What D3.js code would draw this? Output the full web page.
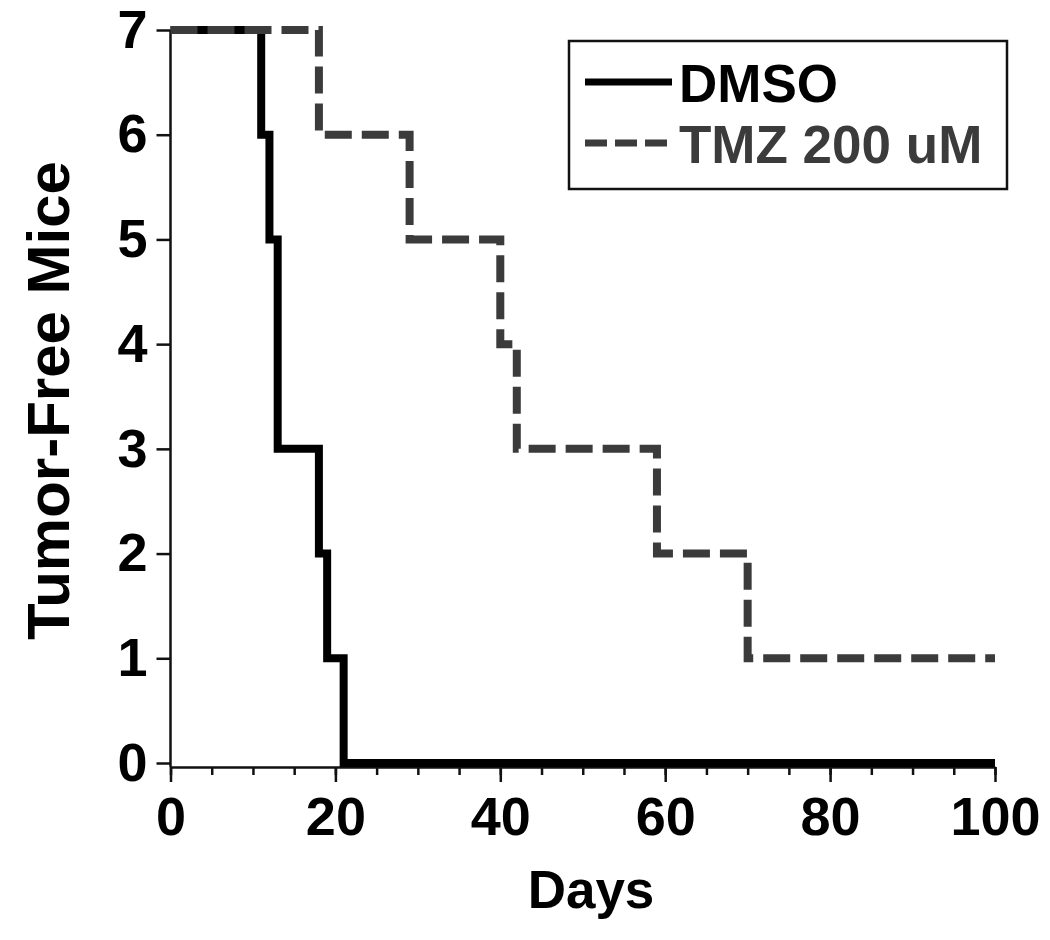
<!DOCTYPE html>
<html>
<head>
<meta charset="utf-8">
<script src="https://cdn.jsdelivr.net/npm/d3@7"></script>
<style>
  body { margin: 0; background: #fff; }
  text { font-family: "Liberation Sans", Arial, sans-serif; font-weight: bold; }
</style>
</head>
<body>
<div id="chart"></div>
<script>
/* DATA */
const dmsoDays = [0, 11, 12, 13, 18, 19, 21, 100];
const dmsoMice = [7, 6, 5, 3, 2, 1, 0, 0];
const tmzDays = [0, 18, 29, 40, 42, 59, 70, 100];
const tmzMice = [7, 6, 5, 4, 3, 2, 1, 1];
const xTicks = [0, 20, 40, 60, 80, 100];
const xMinorTicks = d3.range(0, 101, 5);
const yTicks = [0, 1, 2, 3, 4, 5, 6, 7];
const seriesNames = ["DMSO", "TMZ 200 uM"];

/* LAYOUT */
const width = 1050, height = 940;
const margin = { top: 30, left: 170.5, right: 55, bottom: 177 };

const svg = d3.select("#chart").append("svg")
  .attr("width", width)
  .attr("height", height);

const xScale = d3.scaleLinear()
  .domain([0, 100])
  .range([margin.left, width - margin.right]);

const yScale = d3.scaleLinear()
  .domain([0, 7])
  .range([height - margin.bottom, margin.top]);

const axisY = yScale(0) + 4; // x axis sits a few px under the zero line

// minor x ticks
svg.append("g")
  .attr("transform", `translate(0, ${axisY})`)
  .call(d3.axisBottom(xScale).tickValues(xMinorTicks).tickSize(8).tickFormat(""))
  .call(g => g.select(".domain").remove())
  .call(g => g.selectAll("line").attr("stroke", "#111").attr("stroke-width", 2.5));

// major x ticks + axis line
const xAxisGroup = svg.append("g")
  .attr("transform", `translate(0, ${axisY})`)
  .call(d3.axisBottom(xScale).tickValues(xTicks).tickSize(15).tickSizeOuter(0).tickPadding(15).tickFormat(d3.format("d")));

xAxisGroup.select(".domain").attr("stroke", "#111").attr("stroke-width", 2.5);
xAxisGroup.selectAll(".tick line").attr("stroke", "#111").attr("stroke-width", 2.5);
xAxisGroup.selectAll(".tick text")
  .attr("font-size", 54)
  .attr("fill", "#000")
  .attr("dy", "0.71em");

// y axis
const yAxisGroup = svg.append("g")
  .attr("transform", `translate(${margin.left}, 0)`)
  .call(d3.axisLeft(yScale).tickValues(yTicks).tickSize(14).tickSizeOuter(0).tickPadding(9).tickFormat(d3.format("d")));

yAxisGroup.select(".domain")
  .attr("d", `M0,${yScale(7)}V${axisY}`)
  .attr("stroke", "#111").attr("stroke-width", 2.5);
yAxisGroup.selectAll(".tick line").attr("stroke", "#111").attr("stroke-width", 2.5);
yAxisGroup.selectAll(".tick text")
  .attr("font-size", 54)
  .attr("fill", "#000");

// axis titles
svg.append("text")
  .attr("x", 591)
  .attr("y", 908)
  .attr("text-anchor", "middle")
  .attr("font-size", 53)
  .attr("fill", "#000")
  .text("Days");

svg.append("text")
  .attr("transform", `translate(69, ${(yScale(0) + yScale(7)) / 2 + 4}) rotate(-90)`)
  .attr("text-anchor", "middle")
  .attr("font-size", 60)
  .attr("fill", "#000")
  .text("Tumor-Free Mice");

/* LINES */
const stepLine = d3.line()
  .x(d => xScale(d[0]))
  .y(d => yScale(d[1]))
  .curve(d3.curveStepAfter);

const dmsoData = d3.zip(dmsoDays, dmsoMice);
const tmzData = d3.zip(tmzDays, tmzMice);

svg.append("path")
  .datum(dmsoData)
  .attr("d", stepLine)
  .attr("fill", "none")
  .attr("stroke", "#000")
  .attr("stroke-width", 8)
  .attr("stroke-linejoin", "miter");

svg.append("path")
  .datum(tmzData)
  .attr("d", stepLine)
  .attr("fill", "none")
  .attr("stroke", "#3b3b3b")
  .attr("stroke-width", 8)
  .attr("stroke-dasharray", "27,10");

/* LEGEND */
const legend = svg.append("g");

legend.append("rect")
  .attr("x", 569)
  .attr("y", 41)
  .attr("width", 438)
  .attr("height", 148)
  .attr("fill", "none")
  .attr("stroke", "#111")
  .attr("stroke-width", 2.5);

const legendRows = [
  { name: seriesNames[0], y: 82, color: "#000", dash: null },
  { name: seriesNames[1], y: 143, color: "#3b3b3b", dash: "22,8" }
];

legendRows.forEach(r => {
  legend.append("line")
    .attr("x1", 585).attr("x2", 672)
    .attr("y1", r.y).attr("y2", r.y)
    .attr("stroke", r.color)
    .attr("stroke-width", 7)
    .attr("stroke-dasharray", r.dash);
  legend.append("text")
    .attr("x", 679)
    .attr("y", r.y + 20)
    .attr("font-size", 53)
    .attr("fill", r.color)
    .text(r.name);
});
</script>
</body>
</html>
